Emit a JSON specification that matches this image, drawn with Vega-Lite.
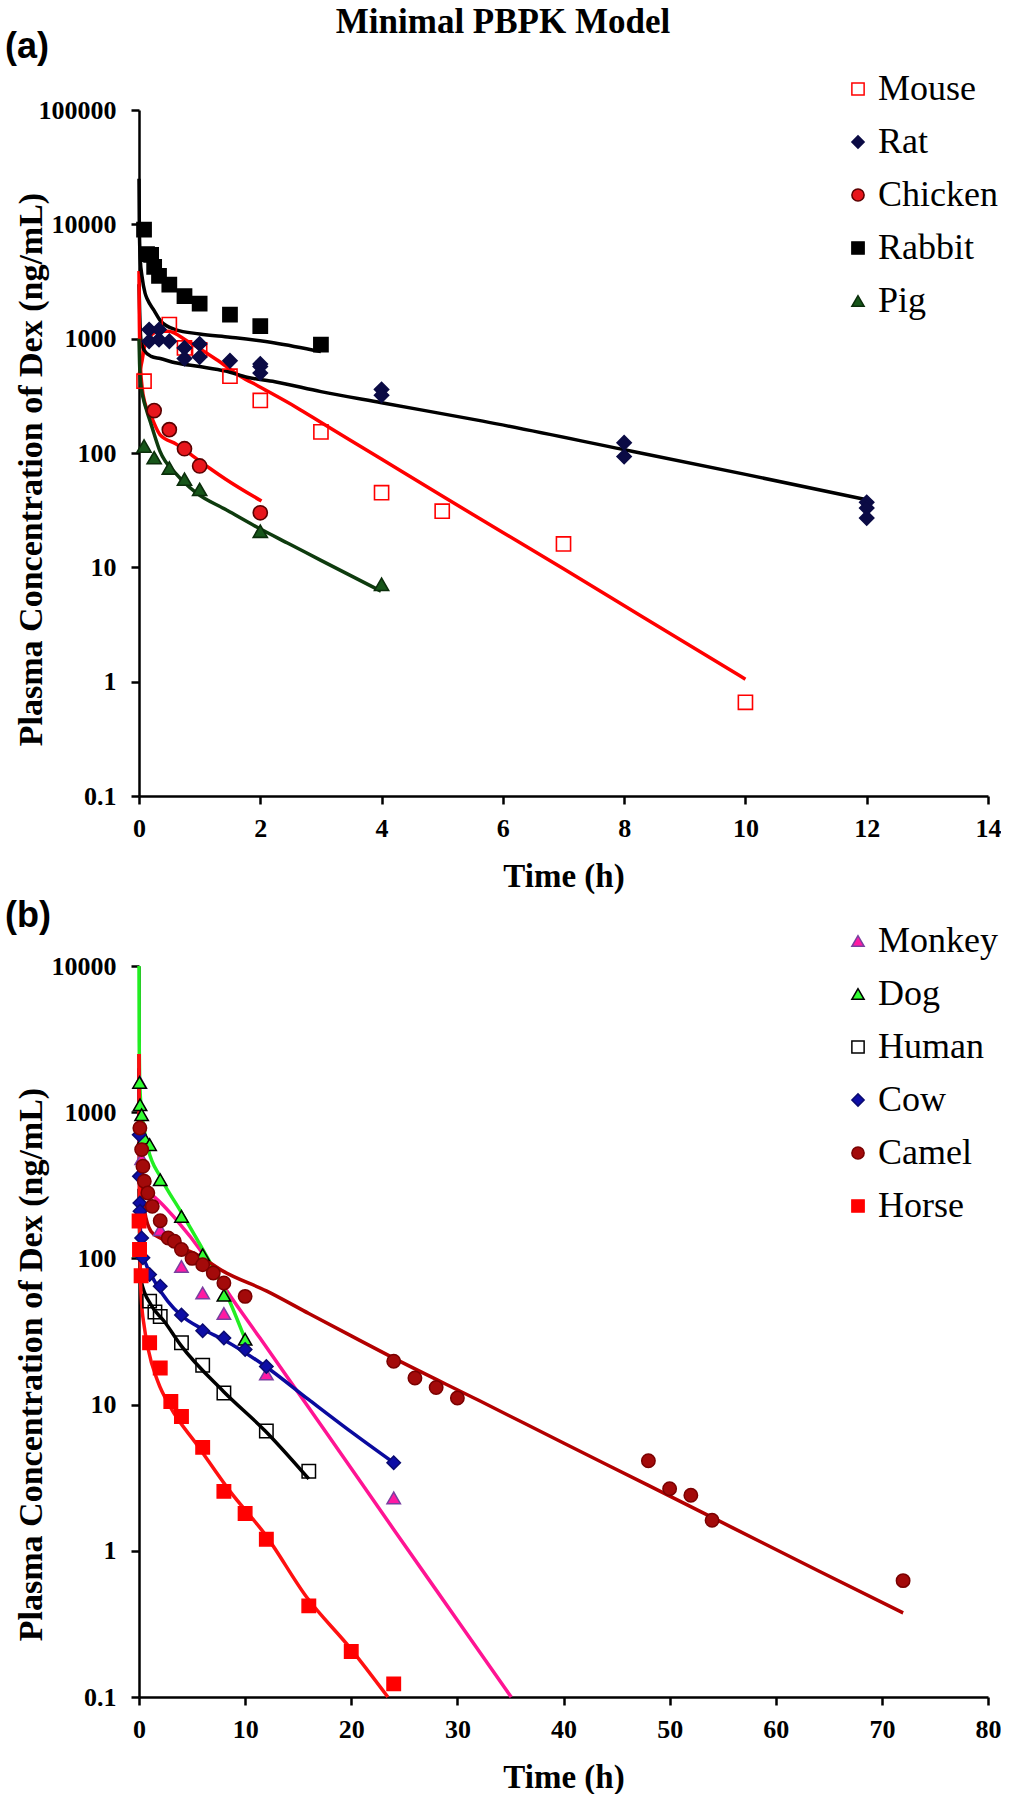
{
  "$schema": "https://vega.github.io/schema/vega-lite/v6.json",
  "padding": {"left": 5, "top": 5, "right": 0, "bottom": 0},
  "background": "white",
  "title": {"text": "Minimal PBPK Model", "font": "Liberation Serif", "fontSize": 35, "fontWeight": "bold", "color": "black", "anchor": "middle", "frame": "bounds", "baseline": "alphabetic", "offset": -39.5},
  "spacing": 5,
  "resolve": {
    "scale": {"color": "independent", "fill": "independent", "stroke": "independent", "shape": "independent", "x": "independent", "y": "independent"},
    "legend": {"color": "independent", "fill": "independent", "stroke": "independent", "shape": "independent"}
  },
  "config": {
    "font": "Liberation Serif",
    "view": {"stroke": null},
    "axis": {"domainColor": "black", "domainWidth": 2.5, "tickColor": "black", "tickWidth": 2.5, "tickSize": 8, "grid": false, "labelFont": "Liberation Serif", "labelFontSize": 26, "labelFontWeight": "bold", "labelColor": "black", "titleFont": "Liberation Serif", "titleFontSize": 33, "titleFontWeight": "bold", "titleColor": "black", "labelFlush": false, "labelOverlap": false},
    "legend": {"orient": "none", "title": null, "padding": 0, "rowPadding": 17, "labelFont": "Liberation Serif", "labelFontSize": 36, "labelFontWeight": "normal", "labelColor": "black", "labelOffset": 2, "symbolSize": 150, "symbolStrokeWidth": 1.5, "labelLimit": 400}
  },
  "datasets": {
    "aPts": [
      {"s":"Mouse","t":0.083,"c":425},{"s":"Mouse","t":0.5,"c":1330},{"s":"Mouse","t":0.75,"c":830},{"s":"Mouse","t":1,"c":800},{"s":"Mouse","t":1.5,"c":470},{"s":"Mouse","t":2,"c":288},{"s":"Mouse","t":3,"c":153},{"s":"Mouse","t":4,"c":45},{"s":"Mouse","t":5,"c":31},{"s":"Mouse","t":7,"c":16},{"s":"Mouse","t":10,"c":0.66},
      {"s":"Rat","t":0.167,"c":1200},{"s":"Rat","t":0.167,"c":950},{"s":"Rat","t":0.33,"c":1200},{"s":"Rat","t":0.33,"c":980},{"s":"Rat","t":0.5,"c":950},{"s":"Rat","t":0.75,"c":830},{"s":"Rat","t":0.75,"c":670},{"s":"Rat","t":1,"c":900},{"s":"Rat","t":1,"c":690},{"s":"Rat","t":1.5,"c":640},{"s":"Rat","t":2,"c":600},{"s":"Rat","t":2,"c":570},{"s":"Rat","t":2,"c":500},{"s":"Rat","t":4,"c":360},{"s":"Rat","t":4,"c":320},{"s":"Rat","t":8,"c":123},{"s":"Rat","t":8,"c":93},{"s":"Rat","t":12,"c":37},{"s":"Rat","t":12,"c":33},{"s":"Rat","t":12,"c":27},
      {"s":"Chicken","t":0.25,"c":235},{"s":"Chicken","t":0.5,"c":160},{"s":"Chicken","t":0.75,"c":109},{"s":"Chicken","t":1,"c":77},{"s":"Chicken","t":2,"c":30},
      {"s":"Rabbit","t":0.083,"c":9000},{"s":"Rabbit","t":0.133,"c":5500},{"s":"Rabbit","t":0.2,"c":5400},{"s":"Rabbit","t":0.25,"c":4250},{"s":"Rabbit","t":0.33,"c":3550},{"s":"Rabbit","t":0.5,"c":2970},{"s":"Rabbit","t":0.75,"c":2350},{"s":"Rabbit","t":1,"c":2030},{"s":"Rabbit","t":1.5,"c":1625},{"s":"Rabbit","t":2,"c":1285},{"s":"Rabbit","t":3,"c":888},
      {"s":"Pig","t":0.083,"c":115},{"s":"Pig","t":0.25,"c":91},{"s":"Pig","t":0.5,"c":74},{"s":"Pig","t":0.75,"c":59},{"s":"Pig","t":1,"c":48},{"s":"Pig","t":2,"c":20.7},{"s":"Pig","t":4,"c":7.1}
    ],
    "aLines": [
      {"s":"Mouse","t":0,"c":480},{"s":"Mouse","t":0.05,"c":640},{"s":"Mouse","t":0.1,"c":888},{"s":"Mouse","t":0.21,"c":1086},{"s":"Mouse","t":0.32,"c":1160},{"s":"Mouse","t":0.48,"c":1160},{"s":"Mouse","t":0.8,"c":950},{"s":"Mouse","t":1.29,"c":650},{"s":"Mouse","t":1.67,"c":470},{"s":"Mouse","t":1.97,"c":384},{"s":"Mouse","t":2.61,"c":248},{"s":"Mouse","t":2.99,"c":187},{"s":"Mouse","t":3.99,"c":89},{"s":"Mouse","t":5,"c":42},{"s":"Mouse","t":6,"c":20.2},{"s":"Mouse","t":7,"c":9.7},{"s":"Mouse","t":8.3,"c":3.7},{"s":"Mouse","t":10,"c":1.05},
      {"s":"Rat","t":0,"c":3000},{"s":"Rat","t":0.01,"c":1800},{"s":"Rat","t":0.03,"c":1000},{"s":"Rat","t":0.08,"c":800},{"s":"Rat","t":0.2,"c":700},{"s":"Rat","t":0.35,"c":670},{"s":"Rat","t":0.6,"c":615},{"s":"Rat","t":1,"c":570},{"s":"Rat","t":1.43,"c":520},{"s":"Rat","t":1.78,"c":460},{"s":"Rat","t":2.24,"c":420},{"s":"Rat","t":3,"c":344},{"s":"Rat","t":4,"c":275},{"s":"Rat","t":5.67,"c":190},{"s":"Rat","t":8,"c":107},{"s":"Rat","t":10,"c":65},{"s":"Rat","t":12,"c":39},
      {"s":"Chicken","t":0,"c":3900},{"s":"Chicken","t":0.005,"c":1500},{"s":"Chicken","t":0.02,"c":650},{"s":"Chicken","t":0.05,"c":380},{"s":"Chicken","t":0.1,"c":270},{"s":"Chicken","t":0.21,"c":203},{"s":"Chicken","t":0.345,"c":145},{"s":"Chicken","t":0.62,"c":119},{"s":"Chicken","t":0.89,"c":94},{"s":"Chicken","t":1.16,"c":74},{"s":"Chicken","t":1.43,"c":59},{"s":"Chicken","t":2.02,"c":38},
      {"s":"Rabbit","t":0,"c":25000},{"s":"Rabbit","t":0.005,"c":10000},{"s":"Rabbit","t":0.02,"c":5000},{"s":"Rabbit","t":0.05,"c":3500},{"s":"Rabbit","t":0.1,"c":2500},{"s":"Rabbit","t":0.14,"c":2200},{"s":"Rabbit","t":0.25,"c":1760},{"s":"Rabbit","t":0.36,"c":1420},{"s":"Rabbit","t":0.6,"c":1200},{"s":"Rabbit","t":1,"c":1100},{"s":"Rabbit","t":1.5,"c":1030},{"s":"Rabbit","t":2.24,"c":918},{"s":"Rabbit","t":3,"c":770},
      {"s":"Pig","t":0,"c":1000},{"s":"Pig","t":0.01,"c":600},{"s":"Pig","t":0.03,"c":400},{"s":"Pig","t":0.07,"c":300},{"s":"Pig","t":0.13,"c":232},{"s":"Pig","t":0.2,"c":178},{"s":"Pig","t":0.345,"c":104},{"s":"Pig","t":0.62,"c":65},{"s":"Pig","t":0.94,"c":45},{"s":"Pig","t":1.43,"c":32},{"s":"Pig","t":2.01,"c":21.5},{"s":"Pig","t":2.48,"c":16},{"s":"Pig","t":3,"c":11.5},{"s":"Pig","t":3.99,"c":6.2}
    ],
    "bPts": [
      {"s":"Monkey","t":0.083,"c":1600},{"s":"Monkey","t":0.25,"c":480},{"s":"Monkey","t":2,"c":157},{"s":"Monkey","t":4,"c":88},{"s":"Monkey","t":6,"c":58},{"s":"Monkey","t":8,"c":42},{"s":"Monkey","t":12,"c":16.2},{"s":"Monkey","t":24,"c":2.3},
      {"s":"Dog","t":0.05,"c":1600},{"s":"Dog","t":0.1,"c":1125},{"s":"Dog","t":0.25,"c":960},{"s":"Dog","t":0.5,"c":667},{"s":"Dog","t":1,"c":600},{"s":"Dog","t":2,"c":345},{"s":"Dog","t":4,"c":194},{"s":"Dog","t":6,"c":106},{"s":"Dog","t":8,"c":56},{"s":"Dog","t":10,"c":28},
      {"s":"Human","t":1,"c":51},{"s":"Human","t":1.5,"c":43},{"s":"Human","t":2,"c":40},{"s":"Human","t":4,"c":26.5},{"s":"Human","t":6,"c":18.6},{"s":"Human","t":8,"c":12},{"s":"Human","t":12,"c":6.6},{"s":"Human","t":16,"c":3.5},
      {"s":"Cow","t":0.02,"c":700},{"s":"Cow","t":0.04,"c":364},{"s":"Cow","t":0.083,"c":239},{"s":"Cow","t":0.1,"c":210},{"s":"Cow","t":0.25,"c":138},{"s":"Cow","t":0.37,"c":101},{"s":"Cow","t":1,"c":77.5},{"s":"Cow","t":2,"c":64.5},{"s":"Cow","t":4,"c":41},{"s":"Cow","t":6,"c":32},{"s":"Cow","t":8,"c":28.5},{"s":"Cow","t":10,"c":23.8},{"s":"Cow","t":12,"c":18.2},{"s":"Cow","t":24,"c":4},
      {"s":"Camel","t":0.083,"c":780},{"s":"Camel","t":0.25,"c":555},{"s":"Camel","t":0.37,"c":427},{"s":"Camel","t":0.5,"c":337},{"s":"Camel","t":0.83,"c":280},{"s":"Camel","t":1.25,"c":227},{"s":"Camel","t":2,"c":181},{"s":"Camel","t":2.75,"c":138},{"s":"Camel","t":3.33,"c":131},{"s":"Camel","t":4,"c":115},{"s":"Camel","t":5,"c":100},{"s":"Camel","t":6,"c":90.6},{"s":"Camel","t":7,"c":79.4},{"s":"Camel","t":8,"c":67.9},{"s":"Camel","t":10,"c":55},{"s":"Camel","t":24,"c":19.8},{"s":"Camel","t":26,"c":15.2},{"s":"Camel","t":28,"c":13.1},{"s":"Camel","t":30,"c":11.1},{"s":"Camel","t":48,"c":4.13},{"s":"Camel","t":50,"c":2.66},{"s":"Camel","t":52,"c":2.4},{"s":"Camel","t":54,"c":1.62},{"s":"Camel","t":72,"c":0.625},
      {"s":"Horse","t":0.01,"c":180},{"s":"Horse","t":0.05,"c":115},{"s":"Horse","t":0.2,"c":76},{"s":"Horse","t":1,"c":26.5},{"s":"Horse","t":2,"c":17.8},{"s":"Horse","t":3,"c":10.5},{"s":"Horse","t":4,"c":8.3},{"s":"Horse","t":6,"c":5.1},{"s":"Horse","t":8,"c":2.55},{"s":"Horse","t":10,"c":1.8},{"s":"Horse","t":12,"c":1.2},{"s":"Horse","t":16,"c":0.42},{"s":"Horse","t":20,"c":0.205},{"s":"Horse","t":24,"c":0.123}
    ],
    "bLines": [
      {"s":"Monkey","t":0,"c":2000},{"s":"Monkey","t":0.05,"c":600},{"s":"Monkey","t":0.15,"c":350},{"s":"Monkey","t":0.4,"c":290},{"s":"Monkey","t":1.14,"c":273},{"s":"Monkey","t":3.62,"c":180},{"s":"Monkey","t":6.1,"c":106},{"s":"Monkey","t":8.27,"c":60},{"s":"Monkey","t":11.4,"c":28.5},{"s":"Monkey","t":14.15,"c":14.8},{"s":"Monkey","t":18,"c":5.9},{"s":"Monkey","t":24,"c":1.4},{"s":"Monkey","t":30,"c":0.335},{"s":"Monkey","t":35.07,"c":0.1},
      {"s":"Dog","t":0,"c":10000},{"s":"Dog","t":0.02,"c":3000},{"s":"Dog","t":0.083,"c":1500},{"s":"Dog","t":0.25,"c":1000},{"s":"Dog","t":0.5,"c":750},{"s":"Dog","t":0.84,"c":568},{"s":"Dog","t":2.07,"c":355},{"s":"Dog","t":3.93,"c":210},{"s":"Dog","t":6.1,"c":112},{"s":"Dog","t":8.27,"c":56.5},{"s":"Dog","t":10,"c":28},
      {"s":"Human","t":0,"c":300},{"s":"Human","t":0.08,"c":110},{"s":"Human","t":0.21,"c":70},{"s":"Human","t":1.14,"c":48},{"s":"Human","t":2.39,"c":37},{"s":"Human","t":3.93,"c":25.5},{"s":"Human","t":7.96,"c":12.3},{"s":"Human","t":11.9,"c":6.6},{"s":"Human","t":16,"c":3.1},
      {"s":"Cow","t":0,"c":2000},{"s":"Cow","t":0.03,"c":500},{"s":"Cow","t":0.08,"c":250},{"s":"Cow","t":0.21,"c":118},{"s":"Cow","t":0.68,"c":90.6},{"s":"Cow","t":1.46,"c":70},{"s":"Cow","t":2.7,"c":51},{"s":"Cow","t":3.93,"c":41},{"s":"Cow","t":6.1,"c":32.5},{"s":"Cow","t":7.96,"c":27.8},{"s":"Cow","t":11.9,"c":18.3},{"s":"Cow","t":16,"c":10.8},{"s":"Cow","t":20,"c":6.5},{"s":"Cow","t":24,"c":4},
      {"s":"Camel","t":0,"c":2500},{"s":"Camel","t":0.03,"c":900},{"s":"Camel","t":0.1,"c":500},{"s":"Camel","t":0.25,"c":300},{"s":"Camel","t":0.53,"c":210},{"s":"Camel","t":1.14,"c":153},{"s":"Camel","t":2,"c":138},{"s":"Camel","t":3,"c":127},{"s":"Camel","t":5.48,"c":106},{"s":"Camel","t":7.96,"c":81.5},{"s":"Camel","t":12,"c":60},{"s":"Camel","t":16,"c":42},{"s":"Camel","t":20,"c":29.5},{"s":"Camel","t":24,"c":20.8},{"s":"Camel","t":32,"c":10.7},{"s":"Camel","t":40,"c":5.46},{"s":"Camel","t":48,"c":2.8},{"s":"Camel","t":56,"c":1.43},{"s":"Camel","t":64,"c":0.73},{"s":"Camel","t":72,"c":0.376},
      {"s":"Horse","t":0,"c":2500},{"s":"Horse","t":0.03,"c":300},{"s":"Horse","t":0.1,"c":100},{"s":"Horse","t":0.21,"c":54},{"s":"Horse","t":0.5,"c":34},{"s":"Horse","t":0.84,"c":24.4},{"s":"Horse","t":1.77,"c":14.4},{"s":"Horse","t":3,"c":9.5},{"s":"Horse","t":5.48,"c":5.3},{"s":"Horse","t":8.58,"c":2.55},{"s":"Horse","t":11.9,"c":1.29},{"s":"Horse","t":15.86,"c":0.475},{"s":"Horse","t":19.9,"c":0.216},{"s":"Horse","t":23.45,"c":0.1}
    ]
  },
  "vconcat": [
    {
      "width": 849,
      "height": 686,
      "title": {"text": "(a)", "font": "Liberation Sans", "fontSize": 36, "fontWeight": "bold", "color": "black", "anchor": "start", "frame": "group", "baseline": "alphabetic", "offset": -22.5, "dx": -134},
      "encoding": {
        "x": {"field": "t", "type": "quantitative", "scale": {"domain": [0, 14], "nice": false, "zero": false},
              "axis": {"values": [0, 2, 4, 6, 8, 10, 12, 14], "labelPadding": 11, "title": "Time (h)", "titlePadding": 19}},
        "y": {"field": "c", "type": "quantitative", "scale": {"type": "log", "domain": [0.1, 100000], "nice": false},
              "axis": {"values": [0.1, 1, 10, 100, 1000, 10000, 100000], "format": "~g", "labelPadding": 15, "title": "Plasma Concentration of Dex (ng/mL)", "titleFontSize": 34, "titleX": -98, "titleY": 359, "titleBaseline": "alphabetic"}}
      },
      "layer": [
        {
          "data": {"name": "aLines"},
          "mark": {"type": "line", "strokeWidth": 3.5, "interpolate": "monotone"},
          "encoding": {
            "color": {"field": "s", "type": "nominal", "scale": {"domain": ["Pig", "Rabbit", "Chicken", "Rat", "Mouse"], "range": ["#0e3b0e", "#000000", "#ff0000", "#000000", "#ff0000"]}, "legend": null}
          }
        },
        {
          "data": {"name": "aPts"},
          "mark": {"type": "point", "filled": true, "size": 200, "strokeWidth": 1.6, "opacity": 1, "fillOpacity": 1, "strokeOpacity": 1},
          "encoding": {
            "shape": {"field": "s", "type": "nominal", "scale": {"domain": ["Mouse", "Rat", "Chicken", "Rabbit", "Pig"], "range": ["square", "diamond", "circle", "square", "triangle-up"]},
                      "legend": {"orient": "none", "legendX": 701, "legendY": -39, "padding": 0, "labelFont": "Liberation Serif", "labelFontSize": 36, "labelFontWeight": "normal", "labelColor": "black", "labelOffset": 2, "rowPadding": 17, "labelLimit": 400}},
            "fill": {"field": "s", "type": "nominal", "scale": {"domain": ["Mouse", "Rat", "Chicken", "Rabbit", "Pig"], "range": ["transparent", "#0b0b45", "#e8161c", "#000000", "#17561a"]},
                     "legend": {"orient": "none", "legendX": 701, "legendY": -39, "padding": 0, "labelFont": "Liberation Serif", "labelFontSize": 36, "labelFontWeight": "normal", "labelColor": "black", "labelOffset": 2, "rowPadding": 17, "labelLimit": 400}},
            "stroke": {"field": "s", "type": "nominal", "scale": {"domain": ["Mouse", "Rat", "Chicken", "Rabbit", "Pig"], "range": ["#ff0000", "#0b0b45", "#5a0000", "#000000", "#0b2e0b"]},
                       "legend": {"orient": "none", "legendX": 701, "legendY": -39, "padding": 0, "labelFont": "Liberation Serif", "labelFontSize": 36, "labelFontWeight": "normal", "labelColor": "black", "labelOffset": 2, "rowPadding": 17, "labelLimit": 400}}
          }
        }
      ]
    },
    {
      "width": 849,
      "height": 731,
      "title": {"text": "(b)", "font": "Liberation Sans", "fontSize": 36, "fontWeight": "bold", "color": "black", "anchor": "start", "frame": "group", "baseline": "alphabetic", "offset": -40, "dx": -134},
      "encoding": {
        "x": {"field": "t", "type": "quantitative", "scale": {"domain": [0, 80], "nice": false, "zero": false},
              "axis": {"values": [0, 10, 20, 30, 40, 50, 60, 70, 80], "labelPadding": 11, "title": "Time (h)", "titlePadding": 19}},
        "y": {"field": "c", "type": "quantitative", "scale": {"type": "log", "domain": [0.1, 10000], "nice": false},
              "axis": {"values": [0.1, 1, 10, 100, 1000, 10000], "format": "~g", "labelPadding": 15, "title": "Plasma Concentration of Dex (ng/mL)", "titleFontSize": 34, "titleX": -98, "titleY": 398, "titleBaseline": "alphabetic"}}
      },
      "layer": [
        {
          "data": {"name": "bLines"},
          "mark": {"type": "line", "strokeWidth": 3.5, "interpolate": "monotone"},
          "encoding": {
            "color": {"field": "s", "type": "nominal", "scale": {"domain": ["Horse", "Camel", "Cow", "Human", "Dog", "Monkey"], "range": ["#ff1010", "#b30000", "#0a0a9e", "#000000", "#22ee22", "#ff1493"]}, "legend": null}
          }
        },
        {
          "data": {"name": "bPts"},
          "mark": {"type": "point", "filled": true, "size": 180, "strokeWidth": 1.5, "opacity": 1, "fillOpacity": 1, "strokeOpacity": 1},
          "encoding": {
            "shape": {"field": "s", "type": "nominal", "scale": {"domain": ["Monkey", "Dog", "Human", "Cow", "Camel", "Horse"], "range": ["triangle-up", "triangle-up", "square", "diamond", "circle", "square"]},
                      "legend": {"orient": "none", "legendX": 701, "legendY": -43, "padding": 0, "labelFont": "Liberation Serif", "labelFontSize": 36, "labelFontWeight": "normal", "labelColor": "black", "labelOffset": 2, "rowPadding": 17, "labelLimit": 400}},
            "fill": {"field": "s", "type": "nominal", "scale": {"domain": ["Monkey", "Dog", "Human", "Cow", "Camel", "Horse"], "range": ["#ff1aa3", "#33ff33", "transparent", "#0d0da6", "#a30a0a", "#ff0000"]},
                     "legend": {"orient": "none", "legendX": 701, "legendY": -43, "padding": 0, "labelFont": "Liberation Serif", "labelFontSize": 36, "labelFontWeight": "normal", "labelColor": "black", "labelOffset": 2, "rowPadding": 17, "labelLimit": 400}},
            "stroke": {"field": "s", "type": "nominal", "scale": {"domain": ["Monkey", "Dog", "Human", "Cow", "Camel", "Horse"], "range": ["#7a3fa0", "#000000", "#000000", "#0a0a70", "#7a0000", "#ff0000"]},
                       "legend": {"orient": "none", "legendX": 701, "legendY": -43, "padding": 0, "labelFont": "Liberation Serif", "labelFontSize": 36, "labelFontWeight": "normal", "labelColor": "black", "labelOffset": 2, "rowPadding": 17, "labelLimit": 400}}
          }
        }
      ]
    }
  ]
}
